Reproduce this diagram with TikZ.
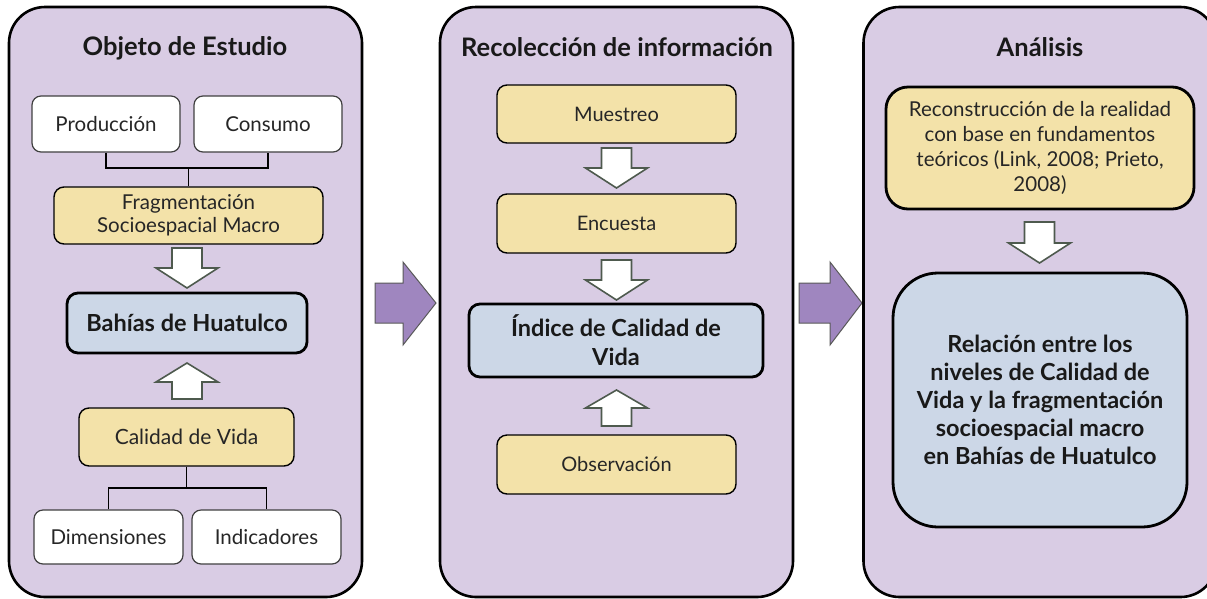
\documentclass[tikz,border=0pt]{standalone}
\usepackage{fontspec}
\setmainfont{Lato}
\definecolor{panelfill}{HTML}{D9CCE4}
\definecolor{yelfill}{HTML}{F3E2A9}
\definecolor{bluefill}{HTML}{CCD7E7}
\definecolor{purp}{HTML}{9F86BF}
\definecolor{arrline}{HTML}{4E5A4E}
\newcommand\blkarrow[4]{\draw[blk] (#1-15,#2) -- (#1+15,#2) -- (#1+15,#3) -- (#1+31,#3) -- (#1,#4) -- (#1-31,#3) -- (#1-15,#3) -- cycle;}
\begin{document}
\begin{tikzpicture}[x=1pt,y=-1pt,
  panel/.style={draw=black,line width=2.6pt,fill=panelfill,rounded corners=36pt,minimum width=353,minimum height=590,inner sep=0pt},
  ttl/.style={font=\fontsize{25.5}{30}\selectfont\bfseries,text=black!90},
  whitebox/.style={draw=black!75,line width=1.2pt,fill=white,rounded corners=9pt,inner sep=0pt,font=\fontsize{20.5}{24}\selectfont,text=black!85},
  yelbox/.style={draw=black,line width=1.4pt,fill=yelfill,rounded corners=10pt,inner sep=0pt,align=center,font=\fontsize{20}{23}\selectfont,text=black!85},
  bluebox/.style={draw=black,line width=2.8pt,fill=bluefill,rounded corners=11pt,inner sep=0pt,align=center,font=\fontsize{23.5}{29}\selectfont\bfseries,text=black!90},
  conn/.style={draw=black,line width=1.5pt},
  blk/.style={draw=arrline,line width=1.6pt,fill=white,line join=miter},
  bigarr/.style={draw=gray!70!black,line width=1pt,fill=purp,line join=miter}
]
\useasboundingbox (0,0) rectangle (1207,598);
\clip (0,0) rectangle (1207,598);
\fill[white] (0,0) rectangle (1207,598);

% big purple arrows between panels
\draw[bigarr] (375,283) -- (403,283) -- (403,262) -- (436,303) -- (403,345) -- (403,323) -- (375,323) -- cycle;
\draw[bigarr] (799,283) -- (830,283) -- (830,262) -- (862,303) -- (830,345) -- (830,323) -- (799,323) -- cycle;

% panels
\node[panel] (p1) at (185.5,302) {};
\node[panel] (p2) at (616.5,302) {};
\node[panel] (p3) at (1040,302) {};

\node[ttl] (t1) at (185,48) {Objeto de Estudio};
\node[ttl] (t2) at (617,47) {Recolección de información};
\node[ttl] (t3) at (1040,47) {Análisis};

% left panel
\node[whitebox,minimum width=148,minimum height=56] (prod) at (106,124) {Producción};
\node[whitebox,minimum width=148,minimum height=56] (cons) at (268,124) {Consumo};
\node[yelbox,minimum width=269,minimum height=57,font=\fontsize{20.5}{23}\selectfont] (frag) at (188.5,215.5) {Fragmentación\\Socioespacial Macro};
\node[bluebox,minimum width=240,minimum height=60] (bah) at (187,323) {Bahías de Huatulco};
\node[yelbox,minimum width=215,minimum height=58,font=\fontsize{21}{24}\selectfont] (cal) at (186.5,437) {Calidad de Vida};
\node[whitebox,minimum width=149,minimum height=54] (dim) at (108.5,537) {Dimensiones};
\node[whitebox,minimum width=149,minimum height=54] (ind) at (266.5,537) {Indicadores};

\draw[conn] (prod.south) -- (prod.south |- 0,168) -- (cons.south |- 0,168) -- (cons.south);
\draw[conn] (frag.north) -- (frag.north |- 0,168);
\draw[conn] (cal.south) -- (cal.south |- 0,488);
\draw[conn] (dim.north) -- (dim.north |- 0,488) -- (ind.north |- 0,488) -- (ind.north);

\blkarrow{187}{248}{268}{288}
\blkarrow{187}{399}{382}{363}

% middle panel
\node[yelbox,minimum width=239,minimum height=58] (mue) at (616.5,114) {Muestreo};
\node[yelbox,minimum width=239,minimum height=59] (enc) at (616.5,223.5) {Encuesta};
\node[bluebox,minimum width=294,minimum height=73] (idx) at (616,340.5) {Índice de Calidad de\\Vida};
\node[yelbox,minimum width=239,minimum height=59] (obs) at (616.5,464.5) {Observación};

\blkarrow{616.5}{148}{168}{188}
\blkarrow{616.5}{260}{280}{300}
\blkarrow{616.5}{426}{408}{390}

% right panel
\node[yelbox,line width=2.8pt,rounded corners=22pt,minimum width=308,minimum height=122,font=\fontsize{20.5}{25}\selectfont] (rec) at (1040,148) {Reconstrucción de la realidad\\con base en fundamentos\\teóricos (Link, 2008; Prieto,\\2008)};
\node[bluebox,rounded corners=45pt,minimum width=294,minimum height=254,font=\fontsize{23.5}{28}\selectfont\bfseries] (rel) at (1040,400) {Relación entre los\\niveles de Calidad de\\Vida y la fragmentación\\socioespacial macro\\en Bahías de Huatulco};

\blkarrow{1039.5}{222}{243}{263}
\end{tikzpicture}
\end{document}
